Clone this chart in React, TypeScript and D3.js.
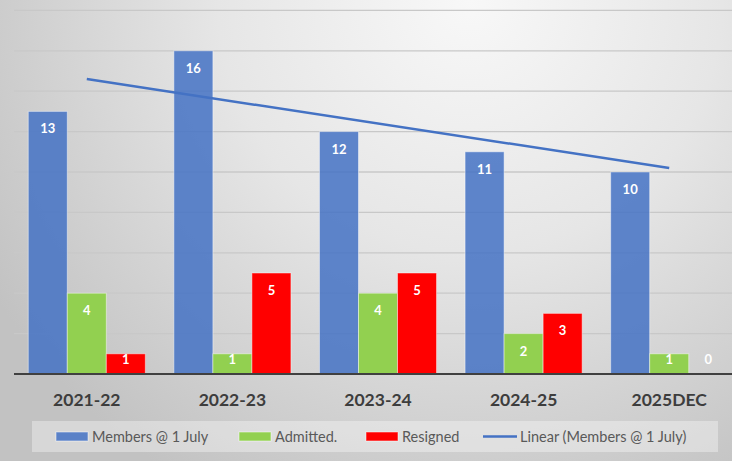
import React, { useEffect, useRef } from 'react';
import * as d3 from 'd3';

const categories = ['2021-22', '2022-23', '2023-24', '2024-25', '2025DEC'];
const members = [13, 16, 12, 11, 10];
const admitted = [4, 1, 4, 2, 1];
const resigned = [1, 5, 5, 3, 0];
const yTicks = [0, 2, 4, 6, 8, 10, 12, 14, 16, 18];

const seriesNames = ['Members @ 1 July', 'Admitted.', 'Resigned'];
const seriesColors = ['#4472C4', '#92D050', '#FF0000'];

const W = 732;
const H = 461;

const App = () => {
  const ref = useRef<SVGSVGElement>(null);

  useEffect(() => {
    const svg = d3.select(ref.current);
    svg.selectAll('*').remove();

    const left = 14;
    const right = 742; // plot runs past the picture edge
    const baseY = 374;
    const topY = 10.4;

    // background
    const defs = svg.append('defs');
    const grad = defs.append('radialGradient')
      .attr('id', 'bg')
      .attr('gradientUnits', 'userSpaceOnUse')
      .attr('cx', 470).attr('cy', 0).attr('r', 560);
    grad.append('stop').attr('offset', '0%').attr('stop-color', '#f8f8f8');
    grad.append('stop').attr('offset', '45%').attr('stop-color', '#e6e6e6');
    grad.append('stop').attr('offset', '100%').attr('stop-color', '#c2c2c2');
    svg.append('rect').attr('width', W).attr('height', H).attr('fill', 'url(#bg)');

    const x0 = d3.scaleBand().domain(categories).range([left, right])
      .paddingInner(0.196).paddingOuter(0.098);
    const x1 = d3.scaleBand().domain(seriesNames).range([0, x0.bandwidth()]);
    const y = d3.scaleLinear().domain([0, 18]).range([baseY, topY]);

    // gridlines
    svg.append('g').selectAll('line')
      .data(yTicks.slice(1))
      .join('line')
      .attr('x1', left).attr('x2', W)
      .attr('y1', d => y(d)).attr('y2', d => y(d))
      .attr('stroke', '#c8c8c8').attr('stroke-width', 1.3);

    const rows = categories.map((c, i) => ({ c, vals: [members[i], admitted[i], resigned[i]] }));

    const groups = svg.append('g').selectAll('g')
      .data(rows)
      .join('g')
      .attr('transform', d => `translate(${x0(d.c)},0)`);

    groups.selectAll('rect')
      .data(d => d.vals.map((v, k) => ({ v, k })))
      .join('rect')
      .attr('x', d => x1(seriesNames[d.k])!)
      .attr('y', d => y(d.v))
      .attr('width', x1.bandwidth())
      .attr('height', d => baseY - y(d.v))
      .attr('fill', d => seriesColors[d.k])
      .attr('fill-opacity', d => (d.k === 0 ? 0.85 : 1))
      .attr('stroke', d => (d.v > 0 ? 'rgba(255,255,255,0.45)' : 'none'))
      .attr('stroke-width', 1);

    groups.selectAll('text')
      .data(d => d.vals.map((v, k) => ({ v, k })))
      .join('text')
      .attr('x', d => x1(seriesNames[d.k])! + x1.bandwidth() / 2)
      .attr('y', d => Math.min(y(d.v) + 17, baseY - 15) + 5)
      .attr('text-anchor', 'middle')
      .attr('font-family', 'Lato, "Open Sans", sans-serif')
      .attr('font-weight', 700)
      .attr('font-size', 13)
      .attr('fill', '#ffffff')
      .text(d => d.v);

    // linear trendline on members
    const xs = members.map((_, i) => i);
    const mx = d3.mean(xs)!;
    const my = d3.mean(members)!;
    const slope = d3.sum(xs, i => (i - mx) * (members[i] - my)) / d3.sum(xs, i => (i - mx) ** 2);
    const icpt = my - slope * mx;
    const cx = (i: number) => x0(categories[i])! + x0.bandwidth() / 2;
    const last = categories.length - 1;
    svg.append('line')
      .attr('x1', cx(0)).attr('y1', y(icpt))
      .attr('x2', cx(last)).attr('y2', y(icpt + slope * last))
      .attr('stroke', '#4472C4').attr('stroke-width', 2.5);

    // baseline
    svg.append('line')
      .attr('x1', left).attr('x2', W)
      .attr('y1', baseY).attr('y2', baseY)
      .attr('stroke', '#404040').attr('stroke-width', 2);

    // category labels
    svg.append('g').selectAll('text')
      .data(categories)
      .join('text')
      .attr('x', d => x0(d)! + x0.bandwidth() / 2)
      .attr('y', 406)
      .attr('text-anchor', 'middle')
      .attr('font-family', 'Lato, "Open Sans", sans-serif')
      .attr('font-weight', 700)
      .attr('font-size', 17.5)
      .attr('fill', '#3d3d3d')
      .text(d => d);

    // legend
    const lg = svg.append('g');
    lg.append('rect')
      .attr('x', 32).attr('y', 421).attr('width', 686).attr('height', 31)
      .attr('fill', 'rgba(255,255,255,0.35)');
    const items = [
      { name: seriesNames[0], color: seriesColors[0], x: 56, line: false },
      { name: seriesNames[1], color: seriesColors[1], x: 239, line: false },
      { name: seriesNames[2], color: seriesColors[2], x: 366, line: false },
      { name: 'Linear (Members @ 1 July)', color: '#4472C4', x: 483, line: true },
    ];
    items.forEach(it => {
      if (it.line) {
        lg.append('line')
          .attr('x1', it.x).attr('x2', it.x + 34)
          .attr('y1', 436.5).attr('y2', 436.5)
          .attr('stroke', it.color).attr('stroke-width', 2.5);
      } else {
        lg.append('rect')
          .attr('x', it.x).attr('y', 432).attr('width', 32).attr('height', 9)
          .attr('fill', it.color)
          .attr('fill-opacity', it.color === seriesColors[0] ? 0.85 : 1)
          .attr('stroke', 'rgba(255,255,255,0.5)');
      }
      lg.append('text')
        .attr('x', it.x + (it.line ? 37 : 36))
        .attr('y', 441.5)
        .attr('font-family', 'Lato, "Open Sans", sans-serif')
        .attr('font-size', 14.5)
        .attr('fill', '#595959')
        .text(it.name);
    });
  }, []);

  return (
    <svg
      ref={ref}
      width={W}
      height={H}
      style={{ position: 'absolute', left: 0, top: 0, display: 'block' }}
    />
  );
};

export default App;
